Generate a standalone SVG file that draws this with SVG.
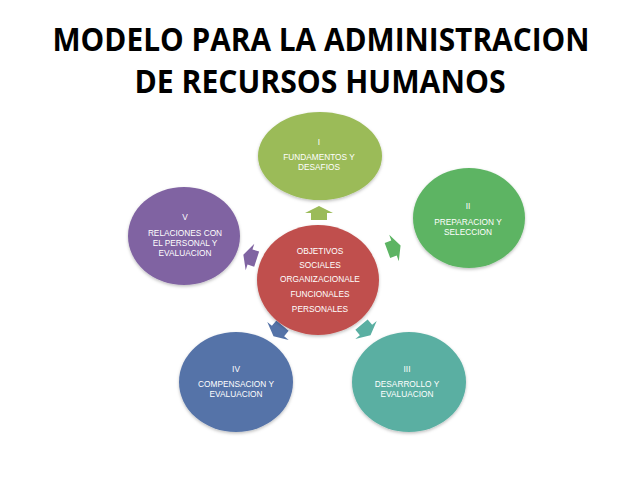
<svg xmlns="http://www.w3.org/2000/svg" width="640" height="480" viewBox="0 0 640 480">
<defs>
<filter id="sh" x="-20%" y="-20%" width="140%" height="140%">
<feDropShadow dx="0" dy="1.5" stdDeviation="1.5" flood-color="#000" flood-opacity="0.25"/>
</filter>
<polygon id="arr" points="-7,-8 0,-8 0,-14 7,0 0,14 0,8 -7,8"/>
</defs>
<style>
.title{font-family:"Open Sans","Liberation Sans",sans-serif;font-weight:bold;font-size:32px;fill:#000;text-anchor:middle}
.t{font-family:"Liberation Sans","Open Sans",sans-serif;font-size:8.3px;fill:#fff;text-anchor:middle}
.n{filter:url(#sh)}
</style>
<rect width="640" height="480" fill="#fff"/>
<text class="title" x="321" y="51" textLength="537" lengthAdjust="spacingAndGlyphs">MODELO PARA LA ADMINISTRACION</text>
<text class="title" x="320" y="93" textLength="371" lengthAdjust="spacingAndGlyphs">DE RECURSOS HUMANOS</text>

<g id="connectors">
<use href="#arr" fill="#9BBB59" transform="translate(319,213) rotate(-90)"/>
<use href="#arr" fill="#5DB463" transform="translate(394,248) rotate(-20)"/>
<use href="#arr" fill="#5AAFA2" transform="translate(366,330) rotate(50)"/>
<use href="#arr" fill="#5573A8" transform="translate(278,331) rotate(130)"/>
<use href="#arr" fill="#8064A2" transform="translate(250,257) rotate(198)"/>
</g>

<g id="center">
<ellipse class="n" cx="318" cy="280" rx="61" ry="55" fill="#C0504D"/>
<text class="t" x="320" y="254">OBJETIVOS</text>
<text class="t" x="320" y="268">SOCIALES</text>
<text class="t" x="320" y="282">ORGANIZACIONALE</text>
<text class="t" x="320" y="297">FUNCIONALES</text>
<text class="t" x="320" y="312">PERSONALES</text>
</g>

<g id="node1">
<ellipse class="n" cx="320" cy="156" rx="62" ry="44" fill="#9BBB59"/>
<text class="t" x="319" y="145">I</text>
<text class="t" x="319" y="160">FUNDAMENTOS Y</text>
<text class="t" x="319" y="170">DESAFIOS</text>
</g>

<g id="node2">
<ellipse class="n" cx="469" cy="218" rx="56" ry="50" fill="#5DB463"/>
<text class="t" x="468" y="209">II</text>
<text class="t" x="468" y="225">PREPARACION Y</text>
<text class="t" x="468" y="235">SELECCION</text>
</g>

<g id="node3">
<ellipse class="n" cx="409" cy="382" rx="57" ry="50" fill="#5AAFA2"/>
<text class="t" x="407" y="372">III</text>
<text class="t" x="407" y="387">DESARROLLO Y</text>
<text class="t" x="407" y="397">EVALUACION</text>
</g>

<g id="node4">
<ellipse class="n" cx="236" cy="382" rx="57" ry="50" fill="#5573A8"/>
<text class="t" x="236" y="372">IV</text>
<text class="t" x="236" y="387">COMPENSACION Y</text>
<text class="t" x="236" y="397">EVALUACION</text>
</g>

<g id="node5">
<ellipse class="n" cx="184" cy="236" rx="56" ry="49" fill="#8064A2"/>
<text class="t" x="185" y="220">V</text>
<text class="t" x="185" y="236">RELACIONES CON</text>
<text class="t" x="185" y="246">EL PERSONAL Y</text>
<text class="t" x="185" y="256">EVALUACION</text>
</g>
</svg>
